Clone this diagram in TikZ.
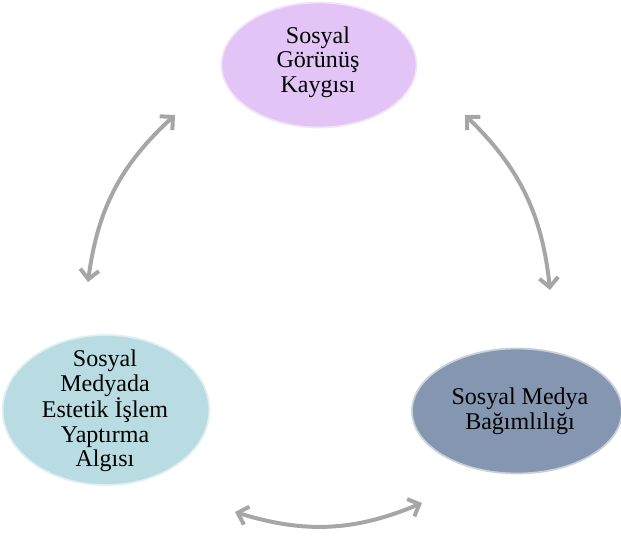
\documentclass[tikz,border=0pt]{standalone}
\usepackage{fontspec}
\setmainfont{Liberation Serif}
\usetikzlibrary{shapes.geometric,arrows.meta}
\definecolor{gorunus}{HTML}{E3C4F6}
\definecolor{bagimli}{HTML}{8496B0}
\definecolor{estetik}{HTML}{B8DCE2}
\definecolor{oklar}{HTML}{A6A6A6}
\tikzset{
	oval/.style={ellipse, draw=white!55!#1, line width=1.5pt, fill=#1, align=center,
		font=\fontsize{20.5}{21}\selectfont, inner sep=0pt},
	yazi/.style={align=center, font=\fontsize{20.5}{21}\selectfont},
	cift/.style={<->, draw=oklar, line width=3.4pt,
		>={Straight Barb[length=8pt,width=16pt]}}
}
\begin{document}
\begin{tikzpicture}[x=0.03cm, y=-0.03cm]
	\useasboundingbox (0,0) rectangle (621,535);
	% ovals
	\node[oval=gorunus, minimum width=5.85cm, minimum height=3.75cm] (kaygi) at (319,65) {};
	\node[yazi] (kaygitxt) at (318,62) {Sosyal\\Görünüş\\Kaygısı};
	\node[oval=bagimli, minimum width=6.3cm, minimum height=3.75cm] (bagimlilik) at (517,411) {};
	\node[yazi] (bagimliliktxt) at (520,411) {Sosyal Medya\\Bağımlılığı};
	\node[oval=estetik, minimum width=6.2cm, minimum height=4.5cm] (estetik) at (106,410) {};
	\node[yazi] (estetiktxt) at (105,411) {Sosyal\\Medyada\\Estetik İşlem\\Yaptırma\\Algısı};
	% arrow ends
	\coordinate (solalt) at (88,282);
	\coordinate (solust) at (175,115);
	\coordinate (sagust) at (465,115);
	\coordinate (sagalt) at (550,290);
	\coordinate (altsol) at (235,512);
	\coordinate (altsag) at (422,503);
	\draw[cift] (solalt) to[bend left=20] (solust);
	\draw[cift] (sagust) to[bend left=20] (sagalt);
	\draw[cift] (altsol) to[bend right=20] (altsag);
\end{tikzpicture}
\end{document}
